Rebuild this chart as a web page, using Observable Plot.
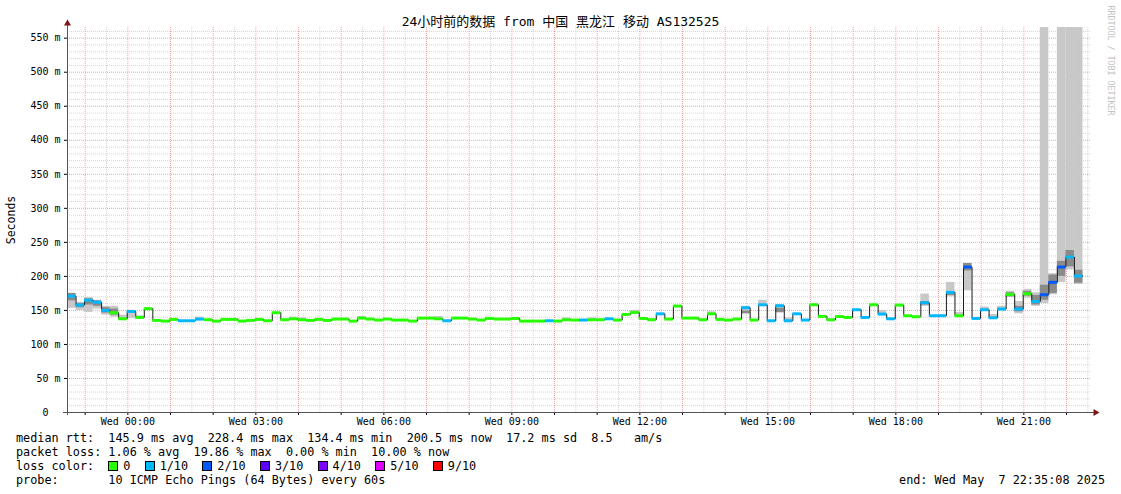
<!DOCTYPE html>
<html><head><meta charset="utf-8">
<script src="https://cdn.jsdelivr.net/npm/d3@7"></script>
<script src="https://cdn.jsdelivr.net/npm/@observablehq/plot@0.6"></script>
<style>
body{margin:0;background:#fff;width:1121px;height:494px;overflow:hidden;font-family:"DejaVu Sans Mono",monospace;}
#wrap{position:relative;width:1121px;height:494px;}
#chart{position:absolute;left:0;top:0;}
#title{position:absolute;z-index:2;left:0;top:13px;width:1121px;text-align:center;font:13px/17px "DejaVu Sans Mono","Noto Sans CJK SC",monospace;color:#000;white-space:pre;}
#legend{position:absolute;z-index:2;left:16px;top:431px;width:1089px;font:11.8px/14px "DejaVu Sans Mono",monospace;color:#000;white-space:pre;}
.row{height:14px;position:relative;}
.box{display:inline-block;width:8px;height:8px;border:1px solid #000;margin-right:5px;vertical-align:-1px;}
.end{position:absolute;right:0;top:0;}
</style></head>
<body>
<div id="wrap">
  <div id="chart"></div>
  <div id="title"></div>
  <div id="legend"></div>
</div>
<script>
// ---- data ----
const titleText = "24小时前的数据 from 中国 黑龙江 移动 AS132525";
const startTime = new Date(Date.UTC(2025, 4, 6, 22, 35, 8));
const endTime = new Date(Date.UTC(2025, 4, 7, 22, 35, 8));
const stepMinutes = 12;

// median rtt per 12-minute step (ms)
const medianMs = [
  171,158,165,162,150,146.6,137.7,148.5,139.7,152.5,
  135.3,134.3,136.8,134.8,134.8,137.3,136.3,134.3,136.8,136.8,
  134.3,135.3,136.8,134.8,146.6,136.3,137.7,136.3,135.3,136.8,
  135.3,137.3,137.3,134.3,138.7,137.3,135.8,137.3,135.8,135.8,
  134.3,138.7,138.7,137.7,134.8,138.7,138.7,137.3,135.8,138.2,
  137.3,137.3,138.2,134.3,134.3,134.3,134.8,134.3,136.3,135.8,
  135.8,136.3,136.3,137.7,135.8,144.1,147,138.2,136.3,145,
  137.3,156.4,138.7,138.7,136.3,145,136.8,135.8,137.3,154,
  135.8,158.3,134.8,156.9,134.8,145,135.8,158.3,141.2,136.3,
  141,139.7,151,139.7,158.3,144.6,137.7,157.8,142.2,140.7,
  161.3,142.2,142.2,176.5,142.2,213.7,138.2,151,139.2,152,
  173.5,152,174.5,163.2,173,191.2,213.7,228.4,200.5
];
// lost pings out of 10 per step
const lossTenths = [
  1,1,1,1,1,0,0,1,0,0,
  0,0,0,1,1,1,0,0,0,0,
  0,0,0,0,0,0,0,0,0,0,
  0,0,0,0,0,0,0,0,0,0,
  0,0,0,0,1,0,0,0,0,0,
  0,0,0,0,0,0,1,0,0,0,
  1,0,0,1,0,0,0,0,0,1,
  0,0,0,0,0,0,0,0,0,1,
  0,1,1,1,1,1,1,0,0,0,
  0,0,1,1,0,1,1,0,0,0,
  1,1,1,1,0,2,1,1,1,1,
  0,1,0,1,2,2,2,1,1
];
// smoke (ping spread) for steps where it is visible
const smokeStep = [0,1,2,3,4,5,6,7,8,15,26,27,34,43,58,61,66,75,79,81,83,84,87,95,100,103,104,105,107,108,109,110,111,112,113,114,115,116,117,118];
const smokeLo   = [153,150,147,152,143,140,137,138,138,135,136,135,137,136,135,135,146,144,145,156,146,134,157,144,156,170,141,179,149,139,151,169,145,168,156,160,173,191,210,188];
const smokeHi   = [175,162,169,165,156,156,143,149,142,140,140,139,141,141,139,139,150,148,156,165,158,139,160,150,174,191,147,219,155,144,156,178,163,181,176,800,204,800,800,800];
const darkLo    = [164,154,158,156,146,143,null,null,null,null,null,null,null,null,null,null,null,null,145,null,147,null,null,null,158,172,null,208,null,null,null,170,148,171,158,165,175,200,214,190];
const darkHi    = [175,160,167,164,154,152,null,null,null,null,null,null,null,null,null,null,null,null,149,null,153,null,null,null,163,176,null,219,null,null,null,176,156,178,172,187,202,222,238,209];

const lossLevels = [0,1,2,3,4,5,9];
const lossLabels = ["0","1/10","2/10","3/10","4/10","5/10","9/10"];
const lossColors = ["#26ff00","#00b8ff","#0059ff","#5e00ff","#7e00ff","#dd00ff","#ff0000"];

const yTicks = [0,50,100,150,200,250,300,350,400,450,500,550];
const yMax = 565.7;

const rttStats = ["145.9","228.4","134.4","200.5","17.2","8.5"];
const lossStats = ["1.06","19.86","0.00","10.00"];
const probeText = "10 ICMP Echo Pings (64 Bytes) every 60s";
const endText = "end: Wed May  7 22:35:08 2025";

// ---- build tables ----
const stepMs = stepMinutes * 60000;
const steps = medianMs.map((m, i) => ({
  t0: new Date(+startTime + i * stepMs),
  t1: new Date(+startTime + (i + 1) * stepMs),
  med: m,
  color: lossColors[lossLevels.indexOf(lossTenths[i])]
}));
const smoke = smokeStep.map((s, j) => ({
  t0: steps[s].t0, t1: steps[s].t1,
  lo: smokeLo[j], hi: smokeHi[j], dlo: darkLo[j], dhi: darkHi[j]
}));
const darkSmoke = smoke.filter(d => d.dlo != null);
const lineData = steps.map(d => ({t: d.t0, v: d.med}));
lineData.push({t: steps[steps.length - 1].t1, v: steps[steps.length - 1].med});

const minorY = d3.range(10, 570, 10).filter(v => v % 50 !== 0);
const majorY = yTicks.filter(v => v > 0);
const hours = d3.utcHour.range(startTime, endTime);
const halfHours = d3.utcMinute.every(30).range(startTime, endTime).filter(d => d.getUTCMinutes() === 30);
const fmt = d3.utcFormat("%a %H:%M");

const axisColor = "#555";
const arrowColor = "#7f1414";

const chart = Plot.plot({
  width: 1121,
  height: 430,
  marginLeft: 67,
  marginRight: 30,
  marginTop: 27,
  marginBottom: 18,
  style: {fontFamily: "DejaVu Sans Mono, monospace", fontSize: "10px", background: "transparent", color: "#000"},
  x: {type: "utc", domain: [startTime, endTime]},
  y: {domain: [0, yMax]},
  color: {type: "identity"},
  marks: [
    Plot.ruleY(minorY, {stroke: "#d4d4d4", strokeDasharray: "1,1"}),
    Plot.ruleX(halfHours, {stroke: "#d4d4d4", strokeDasharray: "1,1"}),
    Plot.ruleY(majorY, {stroke: "#f2a2a2", strokeDasharray: "1,1"}),
    Plot.ruleX(hours, {stroke: "#f2a2a2", strokeDasharray: "1,1"}),
    Plot.rect(smoke, {x1: "t0", x2: "t1", y1: "lo", y2: "hi", fill: "#c8c8c8", clip: true}),
    Plot.rect(darkSmoke, {x1: "t0", x2: "t1", y1: "dlo", y2: "dhi", fill: "#8a8a8a", clip: true}),
    Plot.line(lineData, {x: "t", y: "v", curve: "step-after", stroke: "#1a1a1a", strokeWidth: 1}),
    Plot.ruleY(steps, {y: "med", x1: "t0", x2: "t1", stroke: "color", strokeWidth: 3}),
    Plot.axisY({ticks: yTicks, tickFormat: d => d === 0 ? "0\u00a0\u00a0" : d + " m", tickSize: 3, tickPadding: 4, label: null, fontSize: 10}),
    Plot.axisX({ticks: hours, tickFormat: d => d.getUTCHours() % 3 === 0 ? fmt(d) : "", tickSize: 3, tickPadding: 2, label: null, fontSize: 10}),
    Plot.ruleX([startTime], {stroke: axisColor, insetTop: -4, insetBottom: -3}),
    Plot.ruleY([0], {stroke: axisColor, insetLeft: -4, insetRight: -3}),
    Plot.dot([0], {x: () => startTime, y: () => yMax, symbol: "triangle", r: 2.6, fill: arrowColor, stroke: null, dy: -4}),
    Plot.dot([0], {x: () => endTime, y: () => 0, symbol: "triangle", rotate: 90, r: 2.6, fill: arrowColor, stroke: null, dx: 4}),
    Plot.text(["Seconds"], {text: d => d, frameAnchor: "left", rotate: -90, dx: -56, fontSize: 11.5, lineAnchor: "middle", textAnchor: "middle"}),
    Plot.text(["RRDTOOL / TOBI OETIKER"], {text: d => d, frameAnchor: "top-right", rotate: 90, textAnchor: "start", lineAnchor: "middle", dx: 19, dy: -22, fontSize: 8.3, fill: "#c2c2c2"})
  ]
});
document.getElementById("chart").appendChild(chart);
document.getElementById("title").textContent = titleText;

// ---- legend ----
const legend = document.getElementById("legend");
function row(html) { const d = document.createElement("div"); d.className = "row"; d.innerHTML = html; legend.appendChild(d); return d; }
row(`median rtt:  ${rttStats[0]} ms avg  ${rttStats[1]} ms max  ${rttStats[2]} ms min  ${rttStats[3]} ms now  ${rttStats[4]} ms sd  ${rttStats[5]}   am/s`);
row(`packet loss: ${lossStats[0]} % avg  ${lossStats[1]} % max  ${lossStats[2]} % min  ${lossStats[3]} % now`);
row("loss color:  " + lossLabels.map((l, i) => `<span class="box" style="background:${lossColors[i]}"></span>${l}`).join("  "));
row(`probe:       ${probeText}<span class="end">${endText}</span>`);
</script>
</body></html>
